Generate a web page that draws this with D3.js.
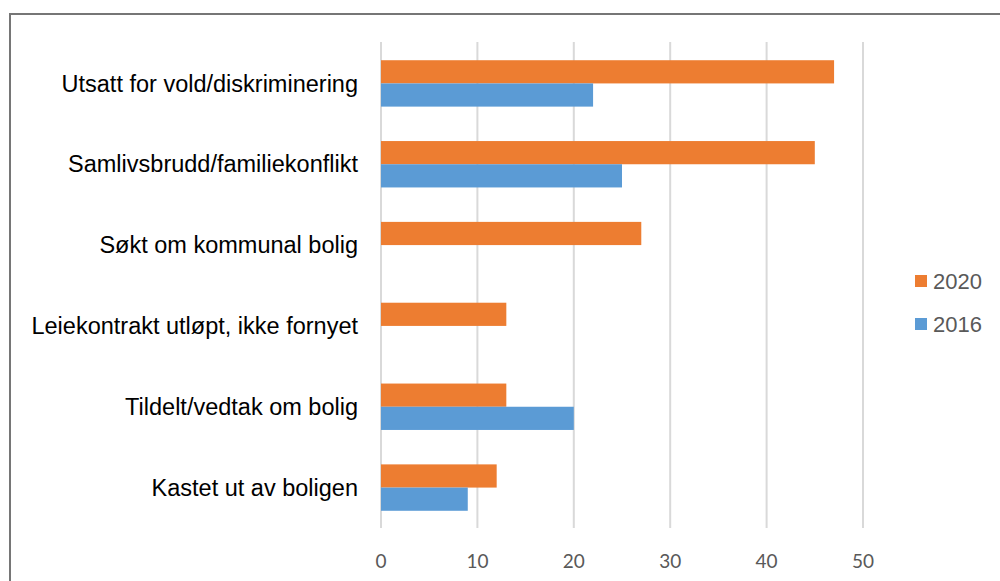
<!DOCTYPE html>
<html lang="no">
<head>
<meta charset="UTF-8">
<title>Årsaker</title>
<script src="https://d3js.org/d3.v7.min.js"></script>
<style>
  body { margin: 0; background: #fff; }
  .cat { font-family: "Liberation Sans", Arial, sans-serif; font-size: 23.5px; fill: #000; }
  .tick-lbl { font-family: Lato, "Open Sans", sans-serif; font-size: 19px; fill: #595959; }
  .leg { font-family: "Liberation Sans", Arial, sans-serif; font-size: 22px; fill: #595959; }
</style>
</head>
<body>
<svg width="1000" height="581"></svg>
<script>
  var categories = [
    "Utsatt for vold/diskriminering",
    "Samlivsbrudd/familiekonflikt",
    "Søkt om kommunal bolig",
    "Leiekontrakt utløpt, ikke fornyet",
    "Tildelt/vedtak om bolig",
    "Kastet ut av boligen"
  ];
  var series = ["2020", "2016"];
  var values2020 = [47, 45, 27, 13, 13, 12];
  var values2016 = [22, 25, null, null, 20, 9];
  var xTicks = [0, 10, 20, 30, 40, 50];
  var colors = { "2020": "#ed7d31", "2016": "#5b9bd5" };

  var svg = d3.select("svg");

  // ramme rundt figuren
  svg.append("rect")
    .attr("x", 10).attr("y", 14)
    .attr("width", 1200).attr("height", 900)
    .attr("fill", "none")
    .attr("stroke", "#767676")
    .attr("stroke-width", 2);

  var x = d3.scaleLinear().domain([0, 50]).range([381, 863]);
  var y = d3.scaleBand().domain(categories).range([43, 528])
    .paddingInner(0.426).paddingOuter(0.213);
  var ySub = d3.scaleBand().domain(series).range([0, y.bandwidth()]);

  // rutenett
  svg.append("g").selectAll("line")
    .data(xTicks)
    .enter().append("line")
    .attr("x1", function(d) { return x(d); })
    .attr("x2", function(d) { return x(d); })
    .attr("y1", 42).attr("y2", 528)
    .attr("stroke", "#d9d9d9")
    .attr("stroke-width", 2);

  svg.append("g").selectAll("text")
    .data(xTicks)
    .enter().append("text")
    .attr("class", "tick-lbl")
    .attr("x", function(d) { return x(d); })
    .attr("y", 568)
    .attr("text-anchor", "middle")
    .text(function(d) { return d; });

  var rows = categories.map(function(c, i) {
    return { cat: c, "2020": values2020[i], "2016": values2016[i] };
  });

  var grp = svg.append("g").selectAll("g")
    .data(rows)
    .enter().append("g")
    .attr("transform", function(d) { return "translate(0," + y(d.cat) + ")"; });

  grp.selectAll("rect")
    .data(function(d) {
      return series.filter(function(s) { return d[s] != null; })
        .map(function(s) { return { key: s, value: d[s] }; });
    })
    .enter().append("rect")
    .attr("x", x(0))
    .attr("y", function(d) { return ySub(d.key); })
    .attr("width", function(d) { return x(d.value) - x(0); })
    .attr("height", ySub.bandwidth())
    .attr("fill", function(d) { return colors[d.key]; });

  svg.append("g").selectAll("text")
    .data(categories)
    .enter().append("text")
    .attr("class", "cat")
    .attr("x", 358)
    .attr("y", function(d) { return y(d) + y.bandwidth() / 2; })
    .attr("dy", "0.35em")
    .attr("text-anchor", "end")
    .text(function(d) { return d; });

  // forklaring
  var leg = svg.append("g").selectAll("g")
    .data(series)
    .enter().append("g")
    .attr("transform", function(d, i) { return "translate(915," + (281 + i * 43) + ")"; });
  leg.append("rect")
    .attr("x", 0).attr("y", -6)
    .attr("width", 12).attr("height", 12)
    .attr("fill", function(d) { return colors[d]; });
  leg.append("text")
    .attr("class", "leg")
    .attr("x", 18).attr("y", 7.5)
    .text(function(d) { return d; });
</script>
</body>
</html>
